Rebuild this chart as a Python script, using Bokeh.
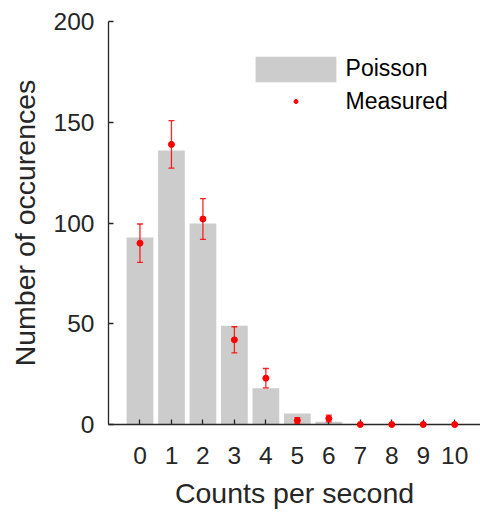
from bokeh.plotting import figure
from bokeh.models import ColumnDataSource, FixedTicker, Legend, LegendItem, Whisker, TeeHead, Range1d
from bokeh.embed import file_html
from bokeh.resources import INLINE

counts = [0, 1, 2, 3, 4, 5, 6, 7, 8, 9, 10]
poisson = [92.8, 136.0, 99.8, 49.0, 18.0, 5.4, 1.4, 0.3, 0.05, 0.0, 0.0]
measured = [90, 139, 102, 42, 23, 2, 3, 0, 0, 0, 0]
errors = [9.5, 11.8, 10.1, 6.5, 4.8, 1.4, 1.7, 0, 0, 0, 0]
x_ticks = [0, 1, 2, 3, 4, 5, 6, 7, 8, 9, 10]
y_ticks = [0, 50, 100, 150, 200]

FONT = "Liberation Sans"
AX = "#262626"

src = ColumnDataSource(dict(
    x=counts, p=poisson, m=measured,
    lo=[m - e for m, e in zip(measured, errors)],
    hi=[m + e for m, e in zip(measured, errors)],
))

p = figure(width=480, height=513, output_backend="svg", toolbar_location=None,
           x_range=Range1d(-1, 10.82), y_range=Range1d(0, 200),
           min_border_left=108, min_border_right=0, min_border_top=21, min_border_bottom=89)
p.outline_line_color = None
p.xgrid.visible = False
p.ygrid.visible = False
p.background_fill_color = "white"
p.border_fill_color = "white"

bars = p.vbar(x="x", top="p", width=0.85, source=src, fill_color="#cccccc", line_color=None)

wh = Whisker(base="x", lower="lo", upper="hi", source=src, line_color="red", line_width=1.3,
             line_alpha=0.85, level="overlay",
             upper_head=TeeHead(size=6, line_color="red", line_width=1.3, line_alpha=0.85),
             lower_head=TeeHead(size=6, line_color="red", line_width=1.3, line_alpha=0.85))
p.add_layout(wh)
pts = p.scatter(x="x", y="m", source=src, size=6, fill_color="red", line_color="red", level="overlay")

for ax in (p.xaxis[0], p.yaxis[0]):
    ax.axis_line_color = AX
    ax.axis_line_width = 1.3
    ax.major_tick_line_color = AX
    ax.major_tick_line_width = 1.3
    ax.major_tick_in = 5
    ax.major_tick_out = 0
    ax.minor_tick_in = 0
    ax.minor_tick_out = 0
    ax.major_label_text_font = FONT
    ax.major_label_text_font_size = "24.5px"
    ax.major_label_text_color = AX
    ax.axis_label_text_font = FONT
    ax.axis_label_text_font_size = "28.5px"
    ax.axis_label_text_color = AX
    ax.axis_label_text_font_style = "normal"

p.xaxis[0].ticker = FixedTicker(ticks=x_ticks)
p.yaxis[0].ticker = FixedTicker(ticks=y_ticks)
p.xaxis[0].axis_label = "Counts per second"
p.yaxis[0].axis_label = "Number of occurences"
p.xaxis[0].major_label_standoff = 22
p.yaxis[0].major_label_standoff = 14
p.xaxis[0].axis_label_standoff = 10
p.yaxis[0].axis_label_standoff = 10

def mk_legend(items, gh, loc):
    lg = Legend(items=items, location=loc, glyph_width=101, glyph_height=gh,
                label_standoff=0, padding=0, margin=0, spacing=0,
                border_line_color=None, background_fill_alpha=0,
                label_text_font=FONT, label_text_font_size="23px", label_text_color="black")
    return lg

lg1 = mk_legend([LegendItem(label="Poisson", renderers=[bars])], 32, (136.6, 339.2))
lg2 = mk_legend([LegendItem(label="Measured", renderers=[pts])], 10, (136.6, 309.5))
p.add_layout(lg1, "center")
p.add_layout(lg2, "center")

open("out.html", "w").write(file_html(p, INLINE))
